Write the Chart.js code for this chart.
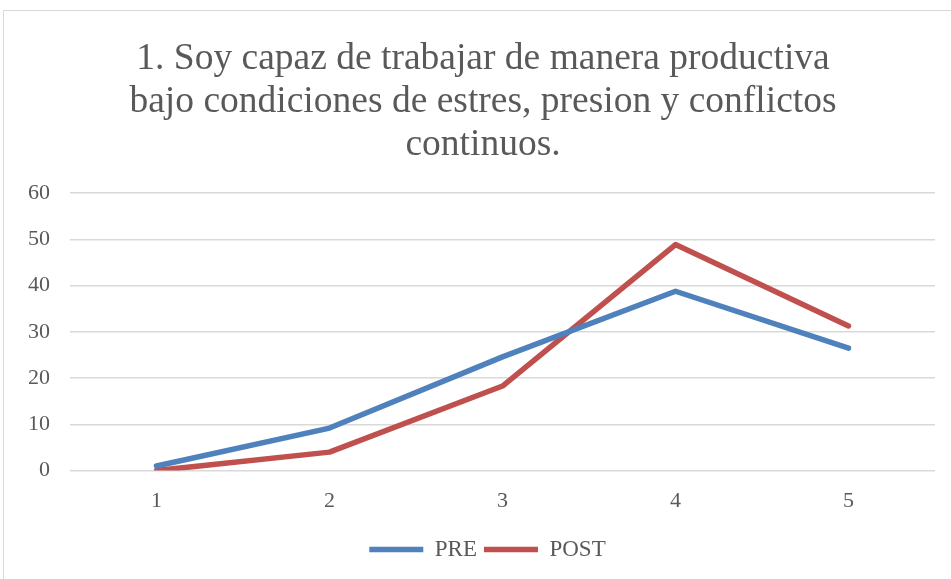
<!DOCTYPE html>
<html>
<head>
<meta charset="utf-8">
<script src="https://cdn.jsdelivr.net/npm/chart.js@4/dist/chart.umd.min.js"></script>
<style>
  html, body { margin: 0; padding: 0; background: #fff; overflow: hidden; }
  #frame { position: absolute; left: 3px; top: 10px; width: 990px; height: 620px; border: 1.5px solid #d9d9d9; box-sizing: border-box; }
  #wrap { position: absolute; left: 0; top: 0; width: 951px; height: 579px; }
</style>
</head>
<body>
<div id="frame"></div>
<div id="wrap"><canvas id="c" width="951" height="579"></canvas></div>
<script>
const titleLines = ["1. Soy capaz de trabajar de manera productiva", "bajo condiciones de estres, presion y conflictos", "continuos."];
const categories = ["1", "2", "3", "4", "5"];
const preValues = [1, 9.2, 24.6, 38.8, 26.5];
const postValues = [0, 4, 18.3, 48.9, 31.3];
const seriesNames = ["PRE", "POST"];

const textColor = "#595959";
const fontFamily = "'Liberation Serif', 'Times New Roman', serif";

const centerBoxes = {
  id: "centerBoxes",
  afterLayout(chart) {
    if (chart.titleBlock) { chart.titleBlock.left = 31; }
    if (chart.legend) { chart.legend.left = 40; }
  }
};

new Chart(document.getElementById("c"), {
  type: "line",
  data: {
    labels: categories,
    datasets: [
      { label: seriesNames[0], data: preValues, borderColor: "#4f81bd", backgroundColor: "#4f81bd", borderWidth: 5.5, pointRadius: 0, borderCapStyle: "round", borderJoinStyle: "round", tension: 0 },
      { label: seriesNames[1], data: postValues, borderColor: "#c0504d", backgroundColor: "#c0504d", borderWidth: 5.5, pointRadius: 0, borderCapStyle: "round", borderJoinStyle: "round", tension: 0 }
    ]
  },
  plugins: [centerBoxes],
  options: {
    responsive: false,
    animation: false,
    layout: { padding: { top: 38, left: 8, right: 16, bottom: 8 } },
    plugins: {
      title: {
        display: true,
        text: titleLines,
        color: textColor,
        font: { family: fontFamily, size: 37.5, weight: "normal", lineHeight: 1.14 },
        padding: { top: 0, bottom: 27 }
      },
      legend: {
        position: "bottom",
        labels: {
          color: textColor,
          font: { family: fontFamily, size: 23 },
          usePointStyle: true,
          pointStyle: "line",
          pointStyleWidth: 54,
          boxWidth: 54,
          boxHeight: 23,
          padding: 7
        }
      },
      tooltip: { enabled: false }
    },
    scales: {
      x: {
        offset: true,
        grid: { display: false, drawTicks: false },
        border: { display: false },
        ticks: { color: textColor, font: { family: fontFamily, size: 22 }, padding: 17 }
      },
      y: {
        min: 0, max: 60,
        ticks: { stepSize: 10, color: textColor, font: { family: fontFamily, size: 22 }, padding: 20 },
        grid: { color: "#d9d9d9", lineWidth: 1.5, drawTicks: false },
        border: { display: false }
      }
    }
  }
});
</script>
</body>
</html>
